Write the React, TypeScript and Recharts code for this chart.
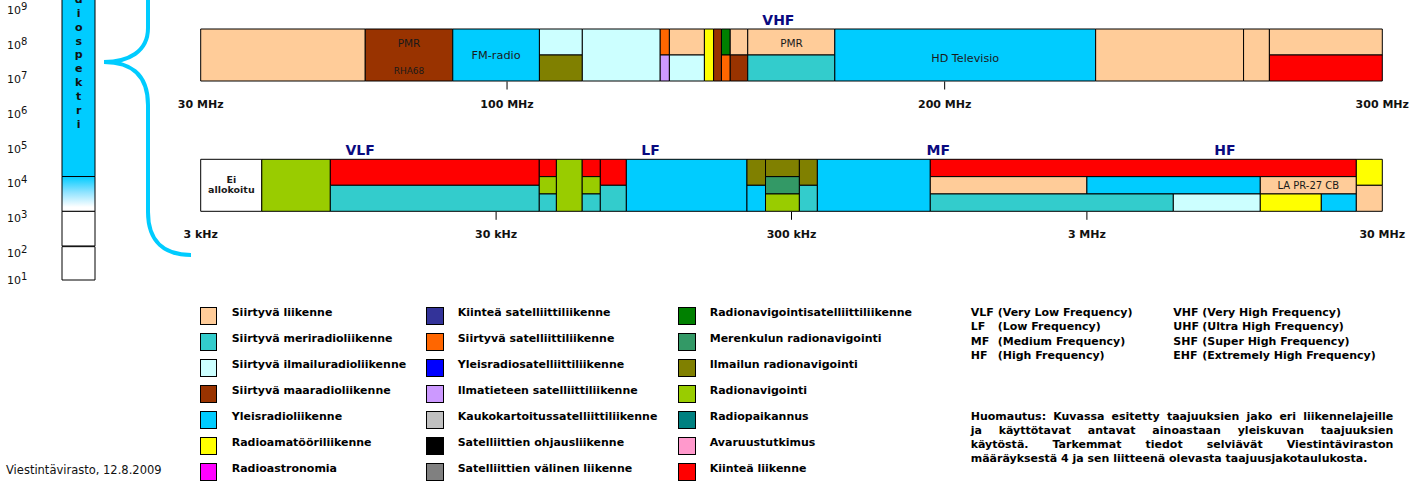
import React from 'react';
import { ComposedChart, XAxis, YAxis, ReferenceArea, ReferenceDot } from 'recharts';

const FONT = '"DejaVu Sans", Verdana, sans-serif';

// ---------- Legend: services and colours ----------
const LEGEND_COL1 = ['Siirtyvä liikenne', 'Siirtyvä meriradioliikenne', 'Siirtyvä ilmailuradioliikenne', 'Siirtyvä maaradioliikenne', 'Yleisradioliikenne', 'Radioamatööriliikenne', 'Radioastronomia'];
const LEGEND_COL1_COLORS = ['#FFCC99', '#33CCCC', '#CCFFFF', '#993300', '#00CCFF', '#FFFF00', '#FF00FF'];
const LEGEND_COL2 = ['Kiinteä satelliittiliikenne', 'Siirtyvä satelliittiliikenne', 'Yleisradiosatelliittiliikenne', 'Ilmatieteen satelliittiliikenne', 'Kaukokartoitussatelliittiliikenne', 'Satelliittien ohjausliikenne', 'Satelliittien välinen liikenne'];
const LEGEND_COL2_COLORS = ['#333399', '#FF6600', '#0000FF', '#CC99FF', '#C0C0C0', '#000000', '#808080'];
const LEGEND_COL3 = ['Radionavigointisatelliittiliikenne', 'Merenkulun radionavigointi', 'Ilmailun radionavigointi', 'Radionavigointi', 'Radiopaikannus', 'Avaruustutkimus', 'Kiinteä liikenne'];
const LEGEND_COL3_COLORS = ['#008000', '#339966', '#808000', '#99CC00', '#008080', '#FF99CC', '#FF0000'];
const UNALLOCATED = 'Ei allokoitu';

// ---------- VHF band 30–300 MHz: [from MHz, to MHz, lane, service] ----------
type Lane = 'full' | 'top' | 'bottom' | 't1' | 't2' | 't3';
const VHF_SEGMENTS: [number, number, Lane, string][] = [
  [30, 67.6, 'full', 'Siirtyvä liikenne'],
  [67.6, 87.6, 'full', 'Siirtyvä maaradioliikenne'],
  [87.6, 107.4, 'full', 'Yleisradioliikenne'],
  [107.4, 117.2, 'top', 'Siirtyvä ilmailuradioliikenne'],
  [107.4, 117.2, 'bottom', 'Ilmailun radionavigointi'],
  [117.2, 135.0, 'full', 'Siirtyvä ilmailuradioliikenne'],
  [135.0, 137.1, 'top', 'Siirtyvä satelliittiliikenne'],
  [135.0, 137.1, 'bottom', 'Ilmatieteen satelliittiliikenne'],
  [137.1, 145.1, 'top', 'Siirtyvä liikenne'],
  [137.1, 145.1, 'bottom', 'Siirtyvä ilmailuradioliikenne'],
  [145.1, 147.2, 'full', 'Radioamatööriliikenne'],
  [147.2, 149.0, 'full', 'Siirtyvä maaradioliikenne'],
  [149.0, 151.0, 'top', 'Radionavigointisatelliittiliikenne'],
  [149.0, 151.0, 'bottom', 'Siirtyvä satelliittiliikenne'],
  [151.0, 155.0, 'top', 'Siirtyvä liikenne'],
  [151.0, 155.0, 'bottom', 'Siirtyvä maaradioliikenne'],
  [155.0, 174.9, 'top', 'Siirtyvä liikenne'],
  [155.0, 174.9, 'bottom', 'Siirtyvä meriradioliikenne'],
  [174.9, 234.5, 'full', 'Yleisradioliikenne'],
  [234.5, 268.3, 'full', 'Siirtyvä liikenne'],
  [268.3, 274.2, 'full', 'Siirtyvä liikenne'],
  [274.2, 300, 'top', 'Siirtyvä liikenne'],
  [274.2, 300, 'bottom', 'Kiinteä liikenne'],
];
const VHF_TICKS = [30, 100, 200, 300];
const VHF_TICK_LABELS = ['30 MHz', '100 MHz', '200 MHz', '300 MHz'];
const VHF_TEXTS: [string, number, number][] = [
  ['PMR', 77.6, 4.35],
  ['RHA68', 77.6, 1.19],
  ['FM-radio', 97.5, 3.0],
  ['PMR', 165.0, 4.4],
  ['HD Televisio', 204.7, 2.62],
];
const VHF_BANDS: [string, number][] = [['VHF', 162]];

// ---------- 3 kHz – 30 MHz (log), values in kHz ----------
const LOW_SEGMENTS: [number, number, Lane, string][] = [
  [3, 4.83, 'full', UNALLOCATED],
  [4.83, 8.24, 'full', 'Radionavigointi'],
  [8.24, 42.0, 'top', 'Kiinteä liikenne'],
  [8.24, 42.0, 'bottom', 'Siirtyvä meriradioliikenne'],
  [42.0, 48.0, 't1', 'Kiinteä liikenne'],
  [42.0, 48.0, 't2', 'Radionavigointi'],
  [42.0, 48.0, 't3', 'Siirtyvä meriradioliikenne'],
  [48.0, 58.7, 'full', 'Radionavigointi'],
  [58.7, 67.6, 't1', 'Kiinteä liikenne'],
  [58.7, 67.6, 't2', 'Radionavigointi'],
  [58.7, 67.6, 't3', 'Siirtyvä meriradioliikenne'],
  [67.6, 82.8, 'top', 'Kiinteä liikenne'],
  [67.6, 82.8, 'bottom', 'Siirtyvä meriradioliikenne'],
  [82.8, 212, 'full', 'Yleisradioliikenne'],
  [212, 245, 'top', 'Ilmailun radionavigointi'],
  [212, 245, 'bottom', 'Yleisradioliikenne'],
  [245, 319, 't1', 'Ilmailun radionavigointi'],
  [245, 319, 't2', 'Merenkulun radionavigointi'],
  [245, 319, 't3', 'Radionavigointi'],
  [319, 367, 'top', 'Ilmailun radionavigointi'],
  [319, 367, 'bottom', 'Siirtyvä meriradioliikenne'],
  [367, 885, 'full', 'Yleisradioliikenne'],
  [885, 24500, 't1', 'Kiinteä liikenne'],
  [885, 3000, 't2', 'Siirtyvä liikenne'],
  [3000, 11590, 't2', 'Yleisradioliikenne'],
  [11590, 24500, 't2', 'Siirtyvä liikenne'],
  [885, 5884, 't3', 'Siirtyvä meriradioliikenne'],
  [5884, 11590, 't3', 'Siirtyvä ilmailuradioliikenne'],
  [11590, 18650, 't3', 'Radioamatööriliikenne'],
  [18650, 24500, 't3', 'Yleisradioliikenne'],
  [24500, 30000, 'top', 'Radioamatööriliikenne'],
  [24500, 30000, 'bottom', 'Siirtyvä liikenne'],
];
const LOW_TICKS = [3, 30, 300, 3000, 30000];
const LOW_TICK_LABELS = ['3 kHz', '30 kHz', '300 kHz', '3 MHz', '30 MHz'];
const LOW_TEXTS: [string, number, number][] = [
  ['Ei', 3.81, 3.65],
  ['allokoitu', 3.81, 2.54],
  ['LA PR-27 CB', 16850, 3.0],
];
const LOW_BANDS: [string, number][] = [['VLF', 10.4], ['LF', 100], ['MF', 942], ['HF', 8800]];

// ---------- Radio spectrum column (exponent of 10) ----------
const EXPONENT_TICKS = [1.22, 2, 3, 4, 5, 6, 7, 8, 9];
const SPECTRUM_SEGMENTS: [number, number, string][] = [
  [1.22, 2.18, 'plain'],
  [2.2, 3.2, 'plain'],
  [3.2, 4.2, 'fade'],
  [4.2, 10, 'radio'],
];
const SPECTRUM_WORD = 'Radiospektri';

// ---------- Notes ----------
const ABBREV_LEFT: [string, string][] = [['VLF', '(Very Low Frequency)'], ['LF', '(Low Frequency)'], ['MF', '(Medium Frequency)'], ['HF', '(High Frequency)']];
const ABBREV_RIGHT: [string, string][] = [['VHF', '(Very High Frequency)'], ['UHF', '(Ultra High Frequency)'], ['SHF', '(Super High Frequency)'], ['EHF', '(Extremely High Frequency)']];
const NOTE_LINES = [
  'Huomautus: Kuvassa esitetty taajuuksien jako eri liikennelajeille',
  'ja käyttötavat antavat ainoastaan yleiskuvan taajuuksien',
  'käytöstä. Tarkemmat tiedot selviävät Viestintäviraston',
  'määräyksestä 4 ja sen liitteenä olevasta taajuusjakotaulukosta.',
];
const FOOTER = 'Viestintävirasto, 12.8.2009';

// ---------- styling helpers ----------
const SERVICE_COLORS: Record<string, string> = { [UNALLOCATED]: '#FFFFFF' };
[[LEGEND_COL1, LEGEND_COL1_COLORS], [LEGEND_COL2, LEGEND_COL2_COLORS], [LEGEND_COL3, LEGEND_COL3_COLORS]].forEach(([n, c]) => {
  n.forEach((name, i) => { SERVICE_COLORS[name] = c[i]; });
});
const LANE_RANGE: Record<Lane, [number, number]> = { full: [0, 6], top: [3, 6], bottom: [0, 3], t1: [4, 6], t2: [2, 4], t3: [0, 2] };
const TEXT_STYLE: Record<string, { size: number; weight: string }> = {
  PMR: { size: 10.5, weight: 'normal' },
  RHA68: { size: 9, weight: 'normal' },
  'FM-radio': { size: 11.3, weight: 'normal' },
  'HD Televisio': { size: 11.2, weight: 'normal' },
  Ei: { size: 9.5, weight: 'bold' },
  allokoitu: { size: 9.5, weight: 'bold' },
  'LA PR-27 CB': { size: 10, weight: 'normal' },
};

function makeTick(ticks: number[], labels: string[]) {
  return (p: any) => {
    const { x, y, payload, index } = p;
    const i = ticks.indexOf(payload.value);
    const interior = index > 0 && index < ticks.length - 1;
    return (
      <g>
        {interior && <line x1={x} x2={x} y1={y + 0.5} y2={y + 8.5} stroke="#000" strokeWidth={1} />}
        <text x={x} y={y + 27} textAnchor="middle" fontSize={11} fontWeight="bold" fontFamily={FONT} fill="#111">
          {labels[i >= 0 ? i : index]}
        </text>
      </g>
    );
  };
}

type BandProps = {
  top: number;
  marginTop: number;
  axisHeight: number;
  domain: [number, number];
  scale: 'linear' | 'log';
  ticks: number[];
  tickLabels: string[];
  segments: [number, number, Lane, string][];
  texts: [string, number, number][];
  bands: [string, number][];
};

function BandChart(props: BandProps) {
  const { top, marginTop, axisHeight, domain, scale, ticks, tickLabels, segments, texts, bands } = props;
  return (
    <div style={{ position: 'absolute', left: 0, top, width: 1422, height: 115 }}>
      <ComposedChart width={1422} height={115} margin={{ top: marginTop, right: 39.7, bottom: 0, left: 200.7 }}>
        <XAxis
          type="number"
          dataKey="x"
          domain={domain}
          scale={scale}
          ticks={ticks}
          interval={0}
          allowDataOverflow
          axisLine={false}
          tickLine={false}
          tickSize={0}
          tickMargin={0}
          height={axisHeight}
          tick={makeTick(ticks, tickLabels)}
        />
        <YAxis type="number" domain={[0, 6]} hide allowDataOverflow />
        {segments.map(([from, to, lane, service], i) => (
          <ReferenceArea
            key={'s' + i}
            x1={from}
            x2={to}
            y1={LANE_RANGE[lane][0]}
            y2={LANE_RANGE[lane][1]}
            fill={SERVICE_COLORS[service]}
            fillOpacity={1}
            stroke="#000"
            strokeWidth={1}
            strokeOpacity={1}
            ifOverflow="visible"
          />
        ))}
        {texts.map(([t, x, y], i) => (
          <ReferenceDot
            key={'t' + i}
            x={x}
            y={y}
            r={0}
            fill="none"
            stroke="none"
            ifOverflow="visible"
            label={{ value: t, position: 'center', fill: '#1a1a1a', fontSize: TEXT_STYLE[t].size, fontWeight: TEXT_STYLE[t].weight, fontFamily: FONT }}
          />
        ))}
        {bands.map(([t, x], i) => (
          <ReferenceDot
            key={'b' + i}
            x={x}
            y={7.05}
            r={0}
            fill="none"
            stroke="none"
            ifOverflow="visible"
            label={{ value: t, position: 'center', fill: '#0a0a80', fontSize: 14, fontWeight: 'bold', fontFamily: FONT }}
          />
        ))}
      </ComposedChart>
    </div>
  );
}

const ExpTick = (p: any) => {
  const { x, y, payload } = p;
  const e = Math.floor(payload.value + 1e-9);
  return (
    <text x={x - 55} y={y} dy={4} fontSize={11} fontFamily={FONT} fill="#111" textAnchor="start">
      10<tspan dy={-4} fontSize={10}>{e}</tspan>
    </text>
  );
};

function SpectrumChart() {
  const fills: Record<string, string> = { plain: '#FFFFFF', fade: 'url(#specFade)', radio: '#00CCFF' };
  return (
    <div style={{ position: 'absolute', left: 0, top: 0, width: 100, height: 290 }}>
      <ComposedChart width={100} height={290} margin={{ top: 0, right: 5, bottom: 10, left: 0 }}>
        <defs>
          <linearGradient id="specFade" x1="0" y1="0" x2="0" y2="1">
            <stop offset="0" stopColor="#00CCFF" />
            <stop offset="0.45" stopColor="#8FE3FF" />
            <stop offset="0.88" stopColor="#FFFFFF" />
          </linearGradient>
        </defs>
        <XAxis type="number" dataKey="x" domain={[0, 1]} hide allowDataOverflow />
        <YAxis
          type="number"
          domain={[1.22, 9.283]}
          ticks={EXPONENT_TICKS}
          interval={0}
          allowDataOverflow
          width={62}
          axisLine={false}
          tickLine={false}
          tickSize={0}
          tickMargin={0}
          tick={ExpTick}
        />
        {SPECTRUM_SEGMENTS.map(([a, b, kind], i) => (
          <ReferenceArea
            key={i}
            x1={0}
            x2={1}
            y1={a}
            y2={b}
            fill={fills[kind]}
            fillOpacity={1}
            stroke="#000"
            strokeWidth={1}
            strokeOpacity={1}
            ifOverflow="visible"
          />
        ))}
      </ComposedChart>
    </div>
  );
}

function Decorations() {
  // the word runs off the top edge of the picture, as in the original; only letters that reach the page are drawn
  const letters = SPECTRUM_WORD.split('')
    .map((ch, i) => ({ ch, y: 30.7 + (i - 4) * 13.86 }))
    .filter((l) => l.y > 0);
  return (
    <svg style={{ position: 'absolute', left: 0, top: 0 }} width={200} height={290}>
      {letters.map((l, i) => (
        <text key={i} x={78.7} y={l.y} textAnchor="middle" fontSize={11} fontWeight="bold" fontFamily={FONT} fill="#111">
          {l.ch}
        </text>
      ))}
      <path
        d="M 148 -60 L 148 28 C 148 52 128 62 104 62 C 128 62 148 72 148 105 L 148 212 C 148 242 165 255 191 255"
        fill="none"
        stroke="#00CCFF"
        strokeWidth={4}
      />
    </svg>
  );
}

function Legend() {
  const cols: [string[], string[], number, number][] = [
    [LEGEND_COL1, LEGEND_COL1_COLORS, 200, 231.7],
    [LEGEND_COL2, LEGEND_COL2_COLORS, 426.3, 457.7],
    [LEGEND_COL3, LEGEND_COL3_COLORS, 678.3, 709.7],
  ];
  return (
    <>
      {cols.map(([names, colors, sx, tx], c) =>
        names.map((name, i) => (
          <React.Fragment key={c + '-' + i}>
            <div
              style={{
                position: 'absolute', left: sx, top: 307.3 + i * 26, width: 17.4, height: 17.4,
                boxSizing: 'border-box', border: '1px solid #000', background: colors[i],
              }}
            />
            <div
              style={{
                position: 'absolute', left: tx, top: 306.2 + i * 26, fontSize: 11, lineHeight: '14px',
                fontWeight: 'bold', whiteSpace: 'nowrap', color: '#000',
              }}
            >
              {name}
            </div>
          </React.Fragment>
        ))
      )}
    </>
  );
}

function Notes() {
  const col = (rows: [string, string][], left: number, w: number) => (
    <div style={{ position: 'absolute', left, top: 306.1, fontSize: 11, lineHeight: '14.2px', fontWeight: 'bold', whiteSpace: 'nowrap', color: '#000' }}>
      {rows.map(([a, b], i) => (
        <div key={i}>
          <span style={{ display: 'inline-block', width: w }}>{a}</span>
          {b}
        </div>
      ))}
    </div>
  );
  return (
    <>
      {col(ABBREV_LEFT, 970.7, 27)}
      {col(ABBREV_RIGHT, 1173.3, 29)}
      <div style={{ position: 'absolute', left: 970.7, top: 410.2, width: 422.6, fontSize: 11, lineHeight: '14px', fontWeight: 'bold', color: '#000' }}>
        {NOTE_LINES.map((l, i) => (
          <div
            key={i}
            style={{
              whiteSpace: 'nowrap',
              textAlign: i < NOTE_LINES.length - 1 ? 'justify' : 'left',
              textAlignLast: i < NOTE_LINES.length - 1 ? 'justify' : 'left',
            } as React.CSSProperties}
          >
            {l}
          </div>
        ))}
      </div>
      <div style={{ position: 'absolute', left: 6, top: 462.5, fontSize: 11.5, lineHeight: '14px', whiteSpace: 'nowrap', color: '#111' }}>
        {FOOTER}
      </div>
    </>
  );
}

export default function App() {
  return (
    <div
      style={{
        position: 'absolute', left: 0, top: 0, width: 1422, height: 486, overflow: 'hidden',
        background: '#fff', fontFamily: FONT,
      }}
    >
      <SpectrumChart />
      <BandChart
        top={0}
        marginTop={29}
        axisHeight={34}
        domain={[30, 300]}
        scale="linear"
        ticks={VHF_TICKS}
        tickLabels={VHF_TICK_LABELS}
        segments={VHF_SEGMENTS}
        texts={VHF_TEXTS}
        bands={VHF_BANDS}
      />
      <BandChart
        top={130}
        marginTop={29.3}
        axisHeight={33.7}
        domain={[3, 30000]}
        scale="log"
        ticks={LOW_TICKS}
        tickLabels={LOW_TICK_LABELS}
        segments={LOW_SEGMENTS}
        texts={LOW_TEXTS}
        bands={LOW_BANDS}
      />
      <Decorations />
      <Legend />
      <Notes />
    </div>
  );
}
